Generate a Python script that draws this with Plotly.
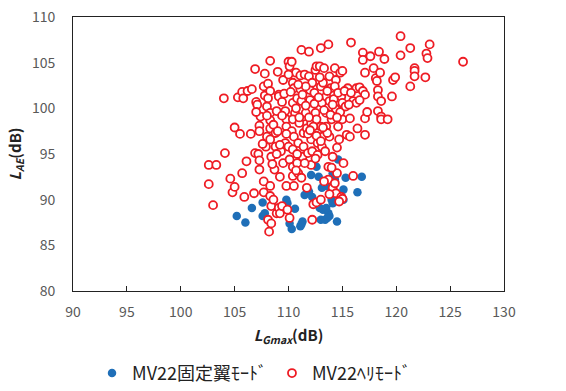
import plotly.graph_objects as go

# MV22 fixed-wing mode (blue, filled)
fixed_x = [105.2, 106.0, 106.6, 107.6, 107.6, 107.8, 109.8, 109.9, 110.3, 110.1, 110.6, 111.1, 111.3, 111.2,
           111.5, 111.9, 112.1, 112.2, 112.6, 112.8, 112.9, 113.0, 113.1, 113.2, 113.4, 113.5, 113.7, 113.8,
           114.0, 114.1, 114.1, 114.3, 114.5, 114.6, 115.1, 115.1, 115.3, 116.4, 116.8, 113.5, 113.6]
fixed_y = [88.2, 87.5, 89.1, 89.7, 88.2, 88.5, 90.0, 89.6, 86.8, 87.4, 89.0, 87.1, 87.6, 87.3,
           90.5, 90.9, 92.7, 90.3, 93.6, 92.5, 89.1, 87.8, 91.3, 88.9, 87.8, 89.1, 88.5, 88.2,
           90.0, 89.6, 92.9, 92.2, 87.6, 94.4, 91.1, 90.0, 92.4, 90.8, 92.5, 91.5, 88.0]

# MV22 helicopter mode (red, open)
heli_x = [102.6, 103.3, 102.6, 103.0, 104.0, 104.1, 104.6, 104.8, 105.0, 105.0, 105.3, 105.5, 105.7, 105.8,
          105.7, 105.9, 106.1, 106.2, 106.6, 106.5, 106.9, 106.9, 106.8, 107.0, 107.1, 107.3, 107.3, 107.2,
          107.3, 107.3, 107.4, 107.7, 107.8, 107.7, 107.8, 107.7, 107.9, 108.0, 108.1, 108.3, 108.3, 108.1,
          108.0, 108.3, 108.3, 108.3, 108.3, 108.4, 108.3, 108.3, 108.4, 108.1, 108.4, 108.2, 108.6, 108.7,
          108.8, 108.8, 108.9, 109.0, 109.1, 109.1, 108.9, 109.1, 109.2, 109.4, 109.5, 109.3, 109.7, 109.5,
          109.7, 109.8, 109.8, 109.8, 109.9, 110.0, 110.1, 110.3, 110.0, 110.1, 110.1, 110.4, 110.4, 110.5,
          110.6, 110.4, 110.3, 110.5, 110.4, 110.4, 110.4, 110.5, 110.7, 110.8, 111.0, 110.9, 110.8, 110.9,
          111.1, 111.1, 111.2, 111.2, 111.5, 111.4, 111.4, 111.3, 111.4, 111.6, 111.7, 111.8, 111.7, 111.9,
          111.9, 112.0, 112.0, 112.1, 112.1, 112.2, 112.1, 112.2, 112.3, 112.4, 112.5, 112.6, 112.5, 112.6,
          112.7, 112.7, 112.7, 112.6, 113.0, 112.9, 113.0, 113.1, 113.0, 113.2, 113.1, 113.0, 113.3, 113.5,
          113.5, 113.5, 113.7, 113.8, 113.9, 113.8, 114.0, 113.8, 113.7, 113.7, 114.1, 114.1, 114.2, 114.3,
          114.4, 114.4, 114.5, 114.4, 114.5, 114.6, 114.7, 114.8, 114.9, 115.0, 115.0, 115.0, 115.1, 114.9,
          115.4, 115.5, 115.7, 115.7, 115.8, 116.0, 116.0, 116.3, 116.3, 116.4, 116.6, 116.9, 116.9, 116.9,
          117.1, 117.1, 117.1, 117.1, 117.6, 117.9, 118.1, 118.2, 118.3, 118.3, 118.3, 118.4, 118.5, 118.6,
          118.6, 118.6, 118.9, 119.2, 119.6, 119.7, 119.9, 120.4, 120.4, 121.3, 121.3, 121.7, 121.7, 121.7,
          122.7, 122.8, 122.9, 123.1, 126.2,
          108.6, 109.0, 109.4, 109.6, 110.2, 110.7, 111.0, 111.3, 111.6, 111.9, 112.3, 112.4, 112.8, 113.2,
          113.3, 113.6, 113.9, 114.1, 114.3, 114.6, 114.8, 115.2, 115.3, 113.6, 112.9, 112.2, 111.6, 110.9,
          111.8, 112.6, 113.0, 113.4, 112.5, 111.5, 110.8, 109.8, 109.2, 108.9, 108.5, 109.2, 110.7, 111.2,
          114.0, 114.3, 113.8, 113.3, 115.0, 114.7, 112.0, 113.2, 114.5, 115.6, 110.0, 109.4, 107.6, 107.0,
          108.0, 115.8, 116.6, 117.3]
heli_y = [93.8, 93.8, 91.7, 89.4, 101.1, 95.1, 92.3, 90.8, 91.4, 97.9, 101.2, 97.2, 101.8, 101.1,
          92.9, 90.3, 94.2, 101.9, 102.1, 97.2, 104.3, 95.1, 90.7, 100.7, 100.4, 98.1, 97.5, 95.0,
          94.3, 93.3, 99.1, 92.0, 103.8, 102.4, 101.4, 90.8, 95.8, 96.9, 102.7, 105.2, 101.9, 101.1,
          100.2, 99.5, 98.7, 97.8, 96.6, 94.7, 91.5, 90.4, 89.3, 87.8, 87.4, 86.5, 90.0, 93.3,
          95.8, 97.3, 99.7, 104.0, 101.5, 101.3, 88.5, 89.1, 88.5, 89.3, 94.0, 95.3, 96.2, 103.1,
          99.7, 98.8, 98.0, 91.5, 88.9, 105.1, 104.6, 105.1, 95.8, 94.4, 88.0, 100.6, 102.8, 102.2,
          99.5, 98.8, 97.5, 96.9, 95.5, 93.6, 92.6, 91.5, 103.9, 101.1, 98.4, 96.2, 94.0, 92.9,
          103.6, 102.1, 100.8, 106.4, 103.7, 97.3, 95.8, 94.7, 99.1, 99.5, 97.8, 95.1, 91.3, 106.2,
          103.5, 102.0, 100.9, 98.4, 96.6, 95.3, 93.8, 87.8, 89.5, 101.7, 104.2, 104.6, 99.5, 98.8,
          97.5, 96.2, 94.9, 89.7, 106.6, 104.6, 102.4, 100.6, 98.0, 96.9, 95.8, 90.0, 104.4, 101.3,
          99.5, 98.0, 107.0, 103.5, 102.2, 100.8, 98.8, 96.9, 93.6, 92.2, 94.7, 91.3, 101.0, 104.4,
          103.1, 99.9, 92.9, 90.7, 95.7, 98.0, 96.6, 103.9, 101.3, 100.6, 104.1, 98.8, 94.0, 90.3,
          97.1, 102.2, 98.9, 96.9, 107.2, 92.6, 100.8, 102.2, 100.6, 97.8, 102.3, 106.1, 105.3, 101.9,
          101.5, 98.9, 97.1, 103.9, 105.7, 104.4, 103.3, 103.0, 102.0, 101.3, 99.7, 106.2, 103.9, 100.8,
          99.1, 98.8, 105.4, 98.8, 101.3, 103.1, 103.4, 107.9, 105.8, 106.6, 102.4, 104.4, 104.1, 103.5,
          103.4, 106.0, 105.5, 107.0, 105.1,
          98.2, 97.5, 99.2, 101.6, 101.8, 100.0, 99.0, 101.5, 100.3, 99.0, 98.0, 100.5, 101.2, 102.8,
          99.8, 97.3, 99.3, 100.4, 102.4, 101.7, 99.6, 101.9, 100.2, 101.9, 103.4, 102.8, 102.4, 102.6,
          97.2, 97.0, 96.4, 95.3, 94.5, 94.0, 95.0, 97.2, 96.0, 95.0, 93.9, 92.5, 93.2, 92.4,
          93.5, 91.8, 90.6, 92.0, 90.1, 89.8, 97.6, 97.9, 99.0, 100.4, 103.7, 100.7, 96.1, 99.6,
          99.2, 101.7, 100.9, 99.6]

x_ticks = [90, 95, 100, 105, 110, 115, 120, 125, 130]
y_ticks = [80, 85, 90, 95, 100, 105, 110]

font_family = "Noto Sans CJK JP, Noto Sans, sans-serif"

fig = go.Figure()
fig.add_trace(go.Scatter(
    x=fixed_x, y=fixed_y, mode="markers", name="MV22固定翼ﾓｰﾄﾞ",
    marker=dict(symbol="circle", size=8.5, color="#1f6fb8", line=dict(width=0)),
))
fig.add_trace(go.Scatter(
    x=heli_x, y=heli_y, mode="markers", name="MV22ﾍﾘﾓｰﾄﾞ",
    marker=dict(symbol="circle", size=8, color="white", line=dict(width=1.8, color="#ee1c24")),
))

fig.update_layout(
    width=566, height=391,
    margin=dict(l=73, r=62, t=17, b=100, autoexpand=False),
    paper_bgcolor="white", plot_bgcolor="white",
    font=dict(family=font_family, size=14, color="#595959"),
    showlegend=True,
    legend=dict(orientation="h", x=0.42, xanchor="center", y=-0.368, yanchor="bottom",
                font=dict(size=18, color="#222222"), itemsizing="trace",
                traceorder="normal", itemwidth=30, tracegroupgap=0),
    xaxis=dict(range=[90, 130], tickvals=x_ticks, ticktext=[str(v) for v in x_ticks],
               showgrid=False, zeroline=False, showline=True, linecolor="#222222", linewidth=1,
               mirror=True, ticks="inside", ticklen=5, tickcolor="#222222",
               ticklabelstandoff=8,
               tickfont=dict(size=14, color="#595959"),
               title=dict(text="<b><i>L</i><sub><i>Gmax</i></sub>(dB)</b>", standoff=10,
                          font=dict(size=15, color="#222222"))),
    yaxis=dict(range=[80, 110], tickvals=y_ticks, ticktext=[str(v) for v in y_ticks],
               showgrid=False, zeroline=False, showline=True, linecolor="#222222", linewidth=1,
               mirror=True, ticks="", ticklabelstandoff=14,
               tickfont=dict(size=14, color="#595959"),
               title=dict(text="<b><i>L</i><sub><i>AE</i></sub>(dB)</b>", standoff=6,
                          font=dict(size=15, color="#222222"))),
)

fig.write_html("out.html")
